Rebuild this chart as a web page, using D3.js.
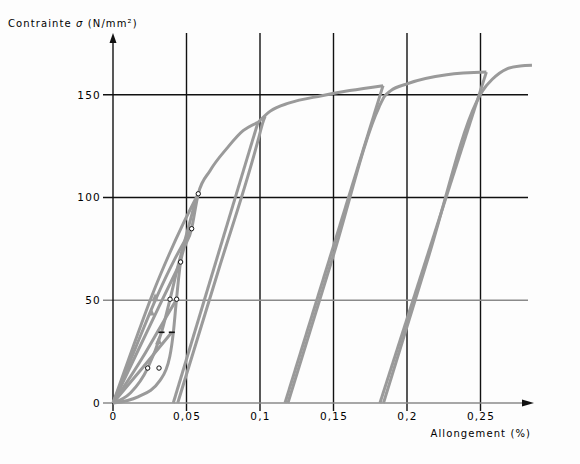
<!DOCTYPE html>
<html>
<head>
<meta charset="utf-8">
<script src="https://cdn.jsdelivr.net/npm/d3@7"></script>
<style>
body{margin:0;background:#fdfdfd;}
text{font-family:"DejaVu Sans",sans-serif;fill:#000;}
</style>
</head>
<body>
<div id="chart-area"></div>
<script>
// tick values / labels
var xTicks = [0, 0.05, 0.1, 0.15, 0.2, 0.25];
var xTickLabels = ["0", "0,05", "0,1", "0,15", "0,2", "0,25"];
var yTicks = [0, 50, 100, 150];

// first loading curve (strain %, stress N/mm2)
var virgin = [[0,0],[0.017,3],[0.032,11],[0.0386,22.5],[0.041,34],[0.043,49],[0.046,68.6],[0.0535,84.8],[0.058,101.8],[0.066,113],[0.0776,124],[0.0885,132.5],[0.0986,136.5]];
// small loops near the origin
var reloadSmall = [[0,0],[0.012,5],[0.0236,17],[0.033,34.4],[0.0388,50.5],[0.044,66],[0.05,82],[0.056,98]];
var loop34 = [[0,0],[0.02,17],[0.04,34.4]];
var loop50 = [[0,0],[0.02,22],[0.033,38],[0.0433,50.5]];
var loop68 = [[0,0],[0.018,27],[0.032,48],[0.046,68.6]];
var loop85 = [[0,0],[0.016,28],[0.03,52],[0.042,70],[0.0535,84.8]];
var loop102 = [[0,0],[0.014,28],[0.028,55],[0.038,72],[0.0476,87],[0.058,101.8]];
// big unload / reload cycles
var unload1 = [[0.0986,136.5],[0.041,0]];
var reload1 = [[0.044,0],[0.0715,64],[0.097,123.4],[0.0995,130],[0.1015,135.5],[0.1035,139.5]];
var curve2 = [[0.0986,136.5],[0.107,142],[0.12,146],[0.142,149.5],[0.161,152],[0.1837,154.4]];
var unload2 = [[0.1837,154.4],[0.117,0]];
var reload2 = [[0.119,0],[0.15,72],[0.181,144],[0.1845,149],[0.189,152],[0.2,155.3],[0.227,159.7],[0.254,161]];
var unload3 = [[0.254,161],[0.1816,0]];
var reload3 = [[0.184,0],[0.215,72],[0.247,146],[0.2515,152],[0.258,157.5],[0.268,162.6],[0.277,164],[0.285,164.3]];
// measuring points
var marksRight = [[0.0313,17],[0.0433,50.5],[0.046,68.6],[0.0535,84.8],[0.058,101.8]];
var marksLeft = [[0.0236,17],[0.0388,50.5]];
var dashMarks = [[0.033,34.4],[0.040,34.4]];
var arrowMarks = [[0.0286,51],[0.026,44],[0.031,30]];

var svg = d3.select("#chart-area").append("svg")
	.attr("width", 580)
	.attr("height", 464);

var x = d3.scaleLinear().domain([0, 0.25]).range([113, 480.5]);
var y = d3.scaleLinear().domain([0, 150]).range([403, 94.7]);

// vertical grid lines
svg.selectAll(".vgrid")
	.data(xTicks.slice(1))
	.enter()
	.append("line")
	.attr("x1", (d) => { return x(d); })
	.attr("x2", (d) => { return x(d); })
	.attr("y1", 33)
	.attr("y2", 411)
	.attr("stroke", "#111")
	.attr("stroke-width", 1.4);

// horizontal grid lines
svg.selectAll(".hgrid")
	.data(yTicks)
	.enter()
	.append("line")
	.attr("x1", 103)
	.attr("x2", 528)
	.attr("y1", (d) => { return y(d); })
	.attr("y2", (d) => { return y(d); })
	.attr("stroke", (d) => { return d >= 100 ? "#111" : "#8a8a8a"; })
	.attr("stroke-width", 1.4);

// y axis line + arrow
svg.append("line")
	.attr("x1", x(0)).attr("x2", x(0))
	.attr("y1", 40).attr("y2", 411)
	.attr("stroke", "#111").attr("stroke-width", 1.4);
svg.append("path")
	.attr("d", "M" + x(0) + ",33 L" + (x(0) - 3.5) + ",43 L" + (x(0) + 3.5) + ",43 Z")
	.attr("fill", "#111");
// x axis arrow
svg.append("line")
	.attr("x1", 522).attr("x2", 530)
	.attr("y1", y(0)).attr("y2", y(0))
	.attr("stroke", "#111").attr("stroke-width", 1.4);
svg.append("path")
	.attr("d", "M534," + y(0) + " L522," + (y(0) - 3.5) + " L522," + (y(0) + 3.5) + " Z")
	.attr("fill", "#111");

// tick labels through axes
var yAxis = d3.axisLeft(y).tickValues(yTicks).tickSize(0).tickPadding(0);
var gy = svg.append("g").attr("transform", "translate(101,0)").call(yAxis);
gy.select(".domain").remove();
gy.selectAll("text")
	.style("font-size", "10.5px")
	.style("letter-spacing", "1.2px")
	.style("font-family", "DejaVu Sans")
	.attr("fill", "#000");

var xAxis = d3.axisBottom(x).tickValues(xTicks)
	.tickFormat((d, i) => { return xTickLabels[i]; })
	.tickSize(0).tickPadding(0);
var gx = svg.append("g").attr("transform", "translate(0,413)").call(xAxis);
gx.select(".domain").remove();
gx.selectAll("text")
	.style("font-size", "10.5px")
	.style("letter-spacing", "1.2px")
	.style("font-family", "DejaVu Sans")
	.attr("fill", "#000");

// curves
var line = d3.line()
	.x((d) => { return x(d[0]); })
	.y((d) => { return y(d[1]); })
	.curve(d3.curveMonotoneX);

var curves = [virgin, reloadSmall, loop34, loop50, loop68, loop85, loop102,
	unload1, reload1, curve2, unload2, reload2, unload3, reload3];

svg.selectAll(".curve")
	.data(curves)
	.enter()
	.append("path")
	.attr("d", line)
	.attr("fill", "none")
	.attr("stroke", "#9a9a9a")
	.attr("stroke-width", 3)
	.attr("stroke-linejoin", "round");

// little arrow heads on the loops
svg.selectAll(".arr")
	.data(arrowMarks)
	.enter()
	.append("path")
	.attr("d", (d) => {
		var px = x(d[0]), py = y(d[1]);
		return "M" + px + "," + (py - 5) + " L" + (px - 3.5) + "," + (py + 3) + " L" + (px + 3.5) + "," + (py + 3) + " Z";
	})
	.attr("fill", "#9a9a9a");

// measuring points
svg.selectAll(".mk")
	.data(marksRight.concat(marksLeft))
	.enter()
	.append("circle")
	.attr("cx", (d) => { return x(d[0]); })
	.attr("cy", (d) => { return y(d[1]); })
	.attr("r", 2.2)
	.attr("fill", "#fff")
	.attr("stroke", "#111")
	.attr("stroke-width", 1);

svg.selectAll(".dash")
	.data(dashMarks)
	.enter()
	.append("line")
	.attr("x1", (d) => { return x(d[0]) - 3; })
	.attr("x2", (d) => { return x(d[0]) + 3; })
	.attr("y1", (d) => { return y(d[1]); })
	.attr("y2", (d) => { return y(d[1]); })
	.attr("stroke", "#111")
	.attr("stroke-width", 1.6);

// axis titles
var yTitle = svg.append("text")
	.attr("x", 8)
	.attr("y", 27)
	.style("font-size", "10px")
	.style("letter-spacing", "1.1px");
yTitle.append("tspan").text("Contrainte ");
yTitle.append("tspan").style("font-style", "italic").text("σ");
yTitle.append("tspan").text(" (N/mm²)");

svg.append("text")
	.attr("x", 531)
	.attr("y", 437)
	.attr("text-anchor", "end")
	.style("font-size", "10px")
	.style("letter-spacing", "1.1px")
	.text("Allongement (%)");
</script>
</body>
</html>
